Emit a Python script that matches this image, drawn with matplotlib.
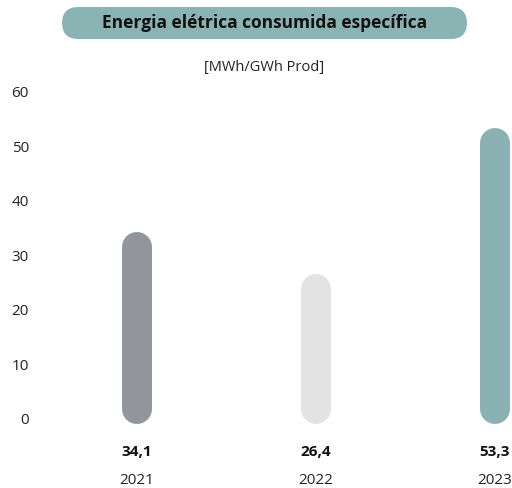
import matplotlib.pyplot as plt
from matplotlib.patches import FancyBboxPatch

years = ["2021", "2022", "2023"]
values = [34.1, 26.4, 53.3]
value_labels = ["34,1", "26,4", "53,3"]
colors = ["#92959c", "#e3e3e3", "#8ab2b3"]
yticks = [0, 10, 20, 30, 40, 50, 60]

plt.rcParams['font.family'] = ['Open Sans', 'DejaVu Sans']

W, H = 512, 489
fig = plt.figure(figsize=(W / 100, H / 100), dpi=100)

# axes placed in pixel terms: y=0 at 419px, y=60 at 92px
ax_left, ax_right = 40, 512
ax_bottom, ax_top = 419, 92
ax = fig.add_axes([ax_left / W, (H - ax_bottom) / H,
                   (ax_right - ax_left) / W, (ax_bottom - ax_top) / H])
ax.set_ylim(0, 60)
ax.set_xlim(-0.542, 2.095)

px_per_unit = (ax_bottom - ax_top) / 60
bar_px = 30
cap = (bar_px / 2) / px_per_unit
for i, v in enumerate(values):
    ax.plot([i, i], [-1.1 + cap, v - cap], color=colors[i],
            linewidth=bar_px * 0.72, solid_capstyle='round', clip_on=False)
    ax.text(i, -6.1, value_labels[i], ha='center', va='center',
            fontsize=11, fontweight='bold', color='#111111', clip_on=False)
    ax.text(i, -11.3, years[i], ha='center', va='center',
            fontsize=11, color='#222222', clip_on=False)

ax.set_yticks(yticks)
ax.set_xticks([])
ax.tick_params(axis='y', length=0, pad=8, labelsize=11, labelcolor='#222222')
for s in ax.spines.values():
    s.set_visible(False)

# title pill
pill = FancyBboxPatch((62 / W, 1 - 40 / H), (467 - 62) / W, 32 / H,
                      boxstyle="round,pad=0,rounding_size=0.032",
                      mutation_aspect=W / H,
                      transform=fig.transFigure, facecolor='#8ab3b3',
                      edgecolor='none')
fig.add_artist(pill)
fig.text(265 / W, 1 - 23 / H, "Energia elétrica consumida específica",
         ha='center', va='center', fontsize=12.5, fontweight='bold',
         color='#111111')
fig.text(264 / W, 1 - 68 / H, "[MWh/GWh Prod]", ha='center', va='center',
         fontsize=10.5, color='#222222')

fig.savefig("out.png", dpi=100)
